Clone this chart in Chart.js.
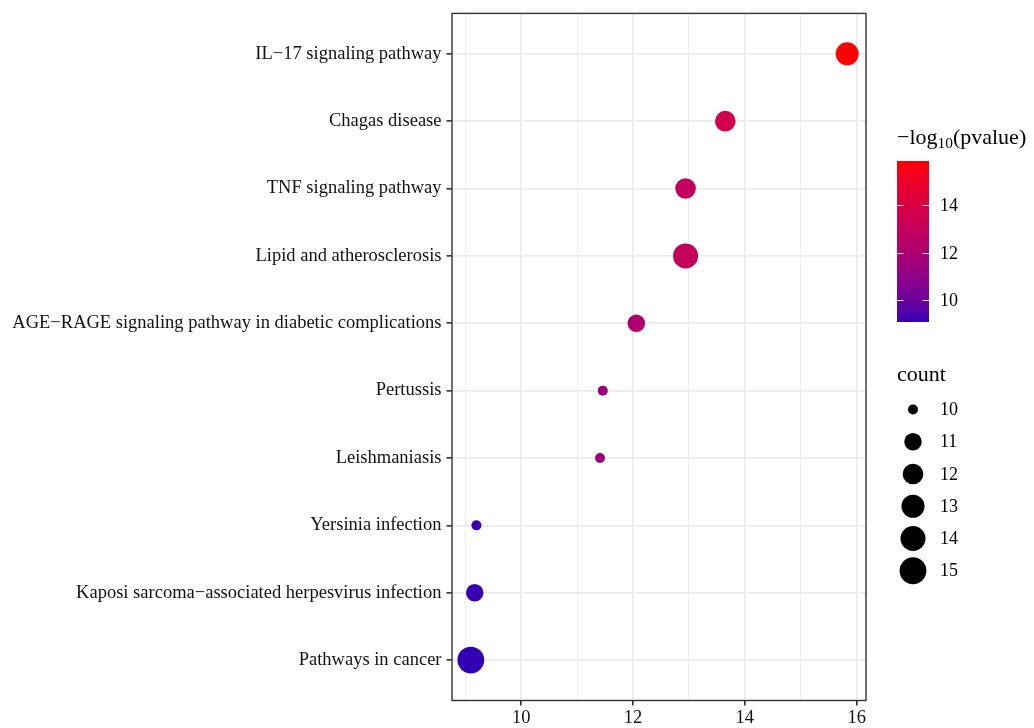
<!DOCTYPE html>
<html>
<head>
<meta charset="utf-8">
<script src="https://cdn.jsdelivr.net/npm/chart.js@4.4.1/dist/chart.umd.min.js"></script>
<style>
    html, body { margin: 0; padding: 0; background: #fff; }
</style>
</head>
<body>
<canvas id="kegg-dotplot" width="1034" height="728"></canvas>
<script>
// KEGG enrichment values, top row first
var pathways = [
    'IL\u221217 signaling pathway',
    'Chagas disease',
    'TNF signaling pathway',
    'Lipid and atherosclerosis',
    'AGE\u2212RAGE signaling pathway in diabetic complications',
    'Pertussis',
    'Leishmaniasis',
    'Yersinia infection',
    'Kaposi sarcoma\u2212associated herpesvirus infection',
    'Pathways in cancer'
];
var logP = [15.83, 13.65, 12.94, 12.94, 12.06, 11.46, 11.41, 9.20, 9.17, 9.10];
var counts = [13, 12, 12, 14, 11, 10, 10, 10, 11, 15];
var xTicks = [9, 10, 11, 12, 13, 14, 15, 16];
var colorTicks = [10, 12, 14];
var sizeBreaks = [10, 11, 12, 13, 14, 15];

var SERIF = "'Liberation Serif', 'DejaVu Serif', serif";
var LOW_COLOR = '#3200b4';
var HIGH_COLOR = '#ff0000';

var pMin = Math.min.apply(null, logP);
var pMax = Math.max.apply(null, logP);
var cMin = Math.min.apply(null, counts);
var cMax = Math.max.apply(null, counts);
var pad = (pMax - pMin) * 0.05;

// colour helpers: interpolate in CIE Lab like scales::seq_gradient_pal
function hexToRgb(h) {
    return [parseInt(h.substr(1, 2), 16), parseInt(h.substr(3, 2), 16), parseInt(h.substr(5, 2), 16)];
}
function toLin(c) {
    c = c / 255;
    return c <= 0.04045 ? c / 12.92 : Math.pow((c + 0.055) / 1.055, 2.4);
}
function fromLin(c) {
    c = c <= 0.0031308 ? 12.92 * c : 1.055 * Math.pow(c, 1 / 2.4) - 0.055;
    return Math.round(Math.max(0, Math.min(1, c)) * 255);
}
var WX = 0.95047, WY = 1.0, WZ = 1.08883;
function rgbToLab(rgb) {
    var r = toLin(rgb[0]), g = toLin(rgb[1]), b = toLin(rgb[2]);
    var x = (0.4124 * r + 0.3576 * g + 0.1805 * b) / WX;
    var y = (0.2126 * r + 0.7152 * g + 0.0722 * b) / WY;
    var z = (0.0193 * r + 0.1192 * g + 0.9505 * b) / WZ;
    var f = function(t) { return t > 0.008856 ? Math.cbrt(t) : 7.787 * t + 16 / 116; };
    var fx = f(x), fy = f(y), fz = f(z);
    return [116 * fy - 16, 500 * (fx - fy), 200 * (fy - fz)];
}
function labToRgb(lab) {
    var fy = (lab[0] + 16) / 116, fx = fy + lab[1] / 500, fz = fy - lab[2] / 200;
    var inv = function(t) { return t * t * t > 0.008856 ? t * t * t : (t - 16 / 116) / 7.787; };
    var x = inv(fx) * WX, y = inv(fy) * WY, z = inv(fz) * WZ;
    var r = 3.2406 * x - 1.5372 * y - 0.4986 * z;
    var g = -0.9689 * x + 1.8758 * y + 0.0415 * z;
    var b = 0.0557 * x - 0.2040 * y + 1.0570 * z;
    return 'rgb(' + fromLin(r) + ',' + fromLin(g) + ',' + fromLin(b) + ')';
}
var lowLab = rgbToLab(hexToRgb(LOW_COLOR));
var highLab = rgbToLab(hexToRgb(HIGH_COLOR));
function colorFor(v) {
    var t = (v - pMin) / (pMax - pMin);
    return labToRgb([0, 1, 2].map(function(k) { return lowLab[k] + (highLab[k] - lowLab[k]) * t; }));
}
function radiusFor(c) {
    return 5.0 + 8.4 * Math.sqrt((c - cMin) / (cMax - cMin));
}

var points = [];
for (var i = 0; i < pathways.length; i++) {
    points.push({ x: logP[i], y: i + 1 });
}

var panelBorder = {
    id: 'panelBorder',
    afterDatasetsDraw: function(chart) {
        var a = chart.chartArea, ctx = chart.ctx;
        ctx.save();
        ctx.strokeStyle = '#333333';
        ctx.lineWidth = 1.4;
        ctx.strokeRect(a.left, a.top, a.right - a.left, a.bottom - a.top);
        ctx.restore();
    }
};

var sideLegends = {
    id: 'sideLegends',
    afterDraw: function(chart) {
        var ctx = chart.ctx;
        ctx.save();
        ctx.fillStyle = '#000';
        ctx.textBaseline = 'alphabetic';
        ctx.textAlign = 'left';

        // colour bar title: -log10(pvalue)
        var tx = 897;
        ctx.font = '22px ' + SERIF;
        ctx.fillText('\u2212log', tx, 144);
        tx += ctx.measureText('\u2212log').width;
        ctx.font = '15.4px ' + SERIF;
        ctx.fillText('10', tx, 148);
        tx += ctx.measureText('10').width;
        ctx.font = '22px ' + SERIF;
        ctx.fillText('(pvalue)', tx, 144);

        // colour bar
        var bx = 897, bw = 32, top = 161, bottom = 322;
        var grad = ctx.createLinearGradient(0, bottom, 0, top);
        for (var s = 0; s <= 20; s++) {
            grad.addColorStop(s / 20, colorFor(pMin + (pMax - pMin) * s / 20));
        }
        ctx.fillStyle = grad;
        ctx.fillRect(bx, top, bw, bottom - top);
        ctx.strokeStyle = 'rgba(255,255,255,0.9)';
        ctx.lineWidth = 1.2;
        ctx.font = '18px ' + SERIF;
        ctx.textBaseline = 'middle';
        colorTicks.forEach(function(v) {
            var y = Math.round(bottom - (v - pMin) / (pMax - pMin) * (bottom - top)) + 0.5;
            ctx.beginPath();
            ctx.moveTo(bx, y); ctx.lineTo(bx + 6.5, y);
            ctx.moveTo(bx + bw - 6.5, y); ctx.lineTo(bx + bw, y);
            ctx.stroke();
            ctx.fillStyle = '#000';
            ctx.fillText(String(v), 940, y + 1);
        });

        // size legend
        ctx.textBaseline = 'alphabetic';
        ctx.font = '22px ' + SERIF;
        ctx.fillText('count', 897, 381);
        ctx.font = '18px ' + SERIF;
        ctx.textBaseline = 'middle';
        sizeBreaks.forEach(function(c, k) {
            var y = 409.5 + k * 32.25;
            ctx.fillStyle = '#000';
            ctx.beginPath();
            ctx.arc(913, y, radiusFor(c), 0, Math.PI * 2);
            ctx.fill();
            ctx.fillText(String(c), 940, y + 1);
        });
        ctx.restore();
    }
};

new Chart(document.getElementById('kegg-dotplot'), {
    type: 'scatter',
    data: {
        datasets: [{
            data: points,
            pointBackgroundColor: logP.map(colorFor),
            pointBorderWidth: 0,
            pointBorderColor: 'rgba(0,0,0,0)',
            pointRadius: counts.map(radiusFor),
            pointHoverRadius: counts.map(radiusFor)
        }]
    },
    options: {
        responsive: false,
        animation: false,
        layout: {
            padding: { left: 0, right: 168, top: 12, bottom: 0 }
        },
        plugins: {
            legend: { display: false },
            tooltip: { enabled: false }
        },
        scales: {
            x: {
                type: 'linear',
                min: pMin - pad,
                max: pMax + pad,
                afterBuildTicks: function(scale) {
                    scale.ticks = xTicks.map(function(v) { return { value: v }; });
                },
                afterFit: function(scale) {
                    scale.height = 27.5;
                    scale.paddingLeft = 0;
                    scale.paddingRight = 0;
                },
                border: { display: false },
                grid: {
                    color: '#ebebeb',
                    lineWidth: function(c) { return c.tick && c.tick.value % 2 === 0 ? 1.7 : 0.9; },
                    tickColor: function(c) { return c.tick && c.tick.value % 2 === 0 ? '#333333' : 'rgba(0,0,0,0)'; },
                    tickWidth: 1.6,
                    tickLength: 5
                },
                ticks: {
                    autoSkip: false,
                    maxRotation: 0,
                    padding: 2,
                    color: '#111',
                    font: { family: SERIF, size: 18.5 },
                    callback: function(v) { return v % 2 === 0 ? String(v) : ''; }
                }
            },
            y: {
                type: 'linear',
                reverse: true,
                min: 0.4,
                max: 10.6,
                afterBuildTicks: function(scale) {
                    scale.ticks = pathways.map(function(p, k) { return { value: k + 1 }; });
                },
                afterFit: function(scale) {
                    scale.width = 452;
                    scale.paddingTop = 0;
                    scale.paddingBottom = 0;
                },
                border: { display: false },
                grid: {
                    color: '#ebebeb',
                    lineWidth: 1.7,
                    tickColor: '#333333',
                    tickWidth: 1.6,
                    tickLength: 5.5
                },
                ticks: {
                    autoSkip: false,
                    padding: 5,
                    color: '#111',
                    font: { family: SERIF, size: 18.5 },
                    callback: function(v) { return pathways[v - 1] || ''; }
                }
            }
        }
    },
    plugins: [panelBorder, sideLegends]
});
</script>
</body>
</html>
